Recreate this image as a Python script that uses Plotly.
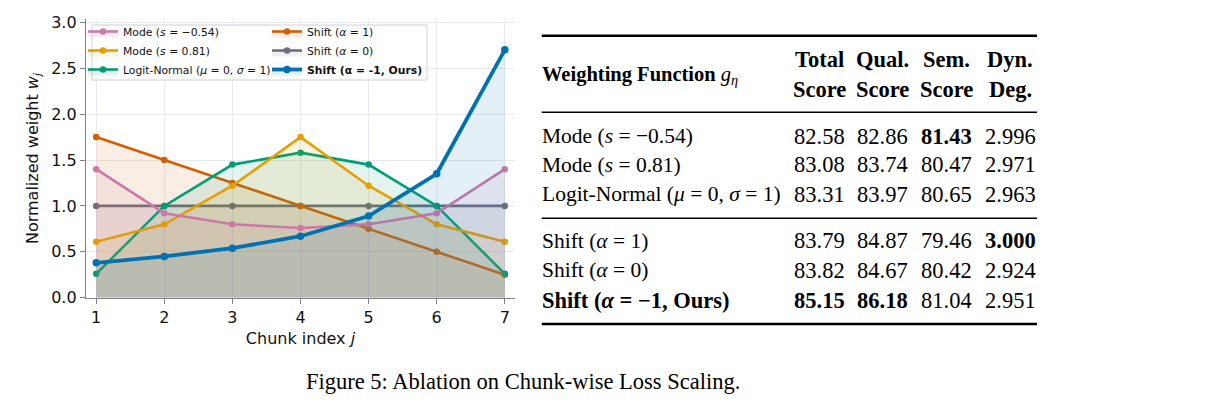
import plotly.graph_objects as go

W, H = 1219, 412

# ---------------- data ----------------
chunks = [1, 2, 3, 4, 5, 6, 7]
mode_neg = [1.40, 0.92, 0.80, 0.76, 0.80, 0.92, 1.40]
mode_pos = [0.61, 0.80, 1.22, 1.75, 1.22, 0.80, 0.61]
logit_normal = [0.26, 1.00, 1.45, 1.58, 1.45, 1.00, 0.26]
shift_pos1 = [1.75, 1.50, 1.25, 1.00, 0.75, 0.50, 0.25]
shift_zero = [1.00, 1.00, 1.00, 1.00, 1.00, 1.00, 1.00]
shift_neg1 = [0.38, 0.45, 0.54, 0.67, 0.89, 1.35, 2.70]

yticks = [0.0, 0.5, 1.0, 1.5, 2.0, 2.5, 3.0]

table_methods = [
    "Mode (<i>s</i> = −0.54)",
    "Mode (<i>s</i> = 0.81)",
    "Logit-Normal (<i>μ</i> = 0, <i>σ</i> = 1)",
    "Shift (<i>α</i> = 1)",
    "Shift (<i>α</i> = 0)",
    "<b>Shift (<i>α</i> = −1, Ours)</b>",
]
total_score = ["82.58", "83.08", "83.31", "83.79", "83.82", "85.15"]
qual_score = ["82.86", "83.74", "83.97", "84.87", "84.67", "86.18"]
sem_score = ["81.43", "80.47", "80.65", "79.46", "80.42", "81.04"]
dyn_degree = ["2.996", "2.971", "2.963", "3.000", "2.924", "2.951"]
header_top = ["Total", "Qual.", "Sem.", "Dyn."]
header_bottom = ["Score", "Score", "Score", "Deg."]
best_cells = {(0, 2), (3, 3), (5, 0), (5, 1)}  # (row, col) shown in bold

# ---------------- helpers ----------------
def px(x):
    return x / W

def py(y):
    return 1 - y / H

def rgba(hexc, a):
    h = hexc.lstrip("#")
    r, g, b = int(h[0:2], 16), int(h[2:4], 16), int(h[4:6], 16)
    return f"rgba({r},{g},{b},{a})"

fig = go.Figure()

series = [
    # name, values, color, width, legend, rank
    ("Shift (<i>α</i> = 0)", shift_zero, "#6b6e7e", 2.6, "legend2", 2),
    ("Shift (<i>α</i> = 1)", shift_pos1, "#D55E00", 2.6, "legend2", 1),
    ("Logit-Normal (<i>μ</i> = 0, <i>σ</i> = 1)", logit_normal, "#009E73", 2.6, "legend", 3),
    ("Mode (<i>s</i> = 0.81)", mode_pos, "#E69F00", 2.6, "legend", 2),
    ("Mode (<i>s</i> = −0.54)", mode_neg, "#CC79A7", 2.6, "legend", 1),
    ("<b>Shift (α = -1, Ours)</b>", shift_neg1, "#0072B2", 3.8, "legend2", 3),
]

for name, vals, col, lw, leg, rank in series:
    fig.add_trace(go.Scatter(
        x=chunks, y=vals, name=name, mode="lines+markers",
        line=dict(color=col, width=lw),
        marker=dict(color=col, size=6.5 if lw < 3 else 7.5),
        fill="tozeroy", fillcolor=rgba(col, 0.11),
        legend=leg, legendrank=rank,
    ))

axis_col = "#7b8093"
grid_col = "#e8eaef"

legend_common = dict(
    yanchor="top", xanchor="left",
    bgcolor="rgba(0,0,0,0)", borderwidth=0,
    font=dict(size=10.8, family="DejaVu Sans", color="#111111"),
    itemwidth=30, tracegroupgap=0, traceorder="normal",
)

fig.update_layout(
    width=W, height=H,
    margin=dict(l=0, r=0, t=0, b=0, autoexpand=False),
    paper_bgcolor="white", plot_bgcolor="white",
    font=dict(family="DejaVu Sans", color="#111111"),
    xaxis=dict(
        domain=[px(86), px(515)], range=[0.85, 7.15], automargin=False,
        tickvals=chunks, ticks="outside", ticklen=5, tickwidth=1.2, tickcolor=axis_col,
        showline=True, linecolor=axis_col, linewidth=1.4,
        showgrid=True, gridcolor=grid_col, gridwidth=1, zeroline=False,
        tickfont=dict(size=16, family="DejaVu Sans", color="#111111"),
        title=dict(text="Chunk index <i>j</i>", font=dict(size=16, family="DejaVu Sans"), standoff=6),
    ),
    yaxis=dict(
        domain=[py(297.7), py(19.3)], range=[0, 3.033], automargin=False,
        tickvals=yticks, ticktext=[f"{v:.1f}" for v in yticks],
        ticks="outside", ticklen=5, tickwidth=1.2, tickcolor=axis_col,
        showline=True, linecolor=axis_col, linewidth=1.4,
        showgrid=True, gridcolor=grid_col, gridwidth=1, zeroline=False,
        tickfont=dict(size=16, family="DejaVu Sans", color="#111111"),
        title=dict(text="Normalized weight <i>w<sub>j</sub></i>", font=dict(size=16, family="DejaVu Sans"), standoff=8),
    ),
    legend=dict(x=px(83), y=py(17), **legend_common),
    legend2=dict(x=px(267), y=py(17), **legend_common),
    showlegend=True,
)

# legend frame
fig.add_shape(type="rect", xref="paper", yref="paper",
              x0=px(92), x1=px(427), y0=py(80), y1=py(25),
              line=dict(color="#d0d0d0", width=1), fillcolor="rgba(255,255,255,0.85)",
              layer="above")

# ---------------- table ----------------
serif = "Liberation Serif"
fs_num = 22.5
fs_label = 21.5
tx0, tx1 = 541.7, 1037
col_x = [819, 882.7, 946, 1010]
row_y = [136, 165, 194.3, 240.7, 270, 300]

for y, lw in [(35.7, 2.6), (112.3, 1.4), (218.3, 1.4), (324, 2.6)]:
    fig.add_shape(type="line", xref="paper", yref="paper",
                  x0=px(tx0), x1=px(tx1), y0=py(y), y1=py(y),
                  line=dict(color="black", width=lw))

fig.add_annotation(x=px(tx0 - 2), y=py(75), xref="paper", yref="paper",
                   xanchor="left", yanchor="middle", showarrow=False,
                   text="<b>Weighting Function</b> <i>g</i><sub><i>η</i></sub>",
                   font=dict(family=serif, size=20.5, color="black"))

for cx, top, bot in zip(col_x, header_top, header_bottom):
    for y, t in [(59.3, top), (89, bot)]:
        fig.add_annotation(x=px(cx), y=py(y), xref="paper", yref="paper",
                           xanchor="center", yanchor="middle", showarrow=False,
                           text=f"<b>{t}</b>",
                           font=dict(family=serif, size=fs_num, color="black"))

cols = [total_score, qual_score, sem_score, dyn_degree]
for r, (label, y) in enumerate(zip(table_methods, row_y)):
    fig.add_annotation(x=px(tx0 - 2), y=py(y), xref="paper", yref="paper",
                       xanchor="left", yanchor="middle", showarrow=False,
                       text=label,
                       font=dict(family=serif, size=22.5 if r == 5 else fs_label, color="black"))
    for c, (cx, colvals) in enumerate(zip(col_x, cols)):
        v = colvals[r]
        txt = f"<b>{v}</b>" if (r, c) in best_cells else v
        fig.add_annotation(x=px(cx), y=py(y), xref="paper", yref="paper",
                           xanchor="center", yanchor="middle", showarrow=False,
                           text=txt, font=dict(family=serif, size=fs_num, color="black"))

# caption
fig.add_annotation(x=px(522.5), y=py(381), xref="paper", yref="paper",
                   xanchor="center", yanchor="middle", showarrow=False,
                   text="Figure 5: Ablation on Chunk-wise Loss Scaling.",
                   font=dict(family=serif, size=22.5, color="black"))

fig.write_html("out.html")
